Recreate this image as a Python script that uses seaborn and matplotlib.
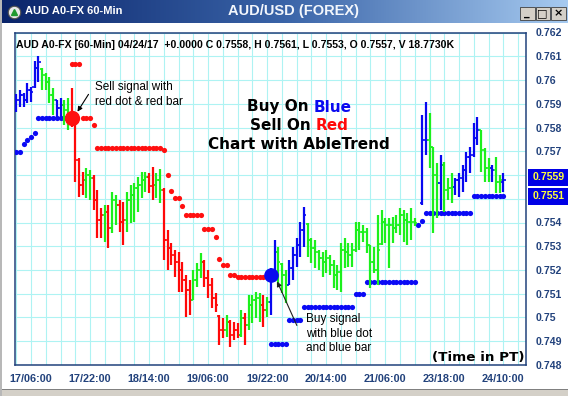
import numpy as np
import pandas as pd
import matplotlib
matplotlib.use("Agg")
import matplotlib.pyplot as plt
import seaborn as sns
from matplotlib.patches import Rectangle
from matplotlib.colors import LinearSegmentedColormap
import matplotlib.transforms as mtrans

# ---------------- data ----------------
bar_index = list(range(-4, 129))   # hourly bars, 0 = 17/06:00
bar_colour = ("BBBBBBB" "GGGG" "BB" "GG" "RRRR" "GG" "RRR" "G" "R" "GG" "RR" "GGGGGG" "RR" "GG"
              "RRRRRRRR" "GGG" "RRRRRR" "G" "RRR" "G" "R" "GGGG" "R" "G" "BB" "GGG" "BBBBB"
              + "G" * 30 + "-" "BB" "GGG" "B" "GGG" "BBBBBBB" "GGG" "B" "GG" "B")

highs = [0.75940, 0.75956, 0.75944, 0.75986, 0.75969, 0.76082, 0.76103, 0.76049, 0.76028, 0.76011,
         0.75965, 0.75914, 0.75923, 0.75914, 0.75923, 0.75965, 0.75843, 0.75671, 0.75612, 0.75629,
         0.75620, 0.75599, 0.75536, 0.75461, 0.75473, 0.75473, 0.75528, 0.75515, 0.75494, 0.75486,
         0.75528, 0.75557, 0.75566, 0.75591, 0.75612, 0.75612, 0.75608, 0.75633, 0.75608, 0.75625,
         0.75545, 0.75368, 0.75314, 0.75284, 0.75276, 0.75234, 0.75179, 0.75158, 0.75200, 0.75230,
         0.75272, 0.75242, 0.75200, 0.75167, 0.75104, 0.75011, 0.74999, 0.75011, 0.74990, 0.74982,
         0.74978, 0.75032, 0.75020, 0.75095, 0.75095, 0.75108, 0.75104, 0.75095, 0.75087, 0.75209,
         0.75326, 0.75297, 0.75230, 0.75200, 0.75242, 0.75297, 0.75335, 0.75402, 0.75465, 0.75398,
         0.75335, 0.75326, 0.75284, 0.75276, 0.75284, 0.75263, 0.75242, 0.75221, 0.75314, 0.75335,
         0.75314, 0.75314, 0.75402, 0.75402, 0.75389, 0.75377, 0.75305, 0.75297, 0.75431, 0.75452,
         0.75419, 0.75419, 0.75423, 0.75431, 0.75461, 0.75452, 0.75440, 0.75461, 0.75419, np.nan,
         0.75851, 0.75906, 0.75860, 0.75717, 0.75650, 0.75683, 0.75654, 0.75587, 0.75608, 0.75587,
         0.75608, 0.75641, 0.75696, 0.75717, 0.75818, 0.75843, 0.75788, 0.75713, 0.75671, 0.75641,
         0.75675, 0.75599, 0.75610]
lows = [0.75864, 0.75885, 0.75885, 0.75902, 0.75906, 0.75965, 0.75990, 0.75956, 0.75956, 0.75902,
        0.75851, 0.75843, 0.75843, 0.75809, 0.75788, 0.75801, 0.75570, 0.75507, 0.75515, 0.75503,
        0.75494, 0.75452, 0.75335, 0.75335, 0.75318, 0.75293, 0.75356, 0.75389, 0.75360, 0.75305,
        0.75360, 0.75398, 0.75402, 0.75444, 0.75503, 0.75528, 0.75524, 0.75494, 0.75503, 0.75482,
        0.75242, 0.75200, 0.75221, 0.75171, 0.75108, 0.75108, 0.75003, 0.75011, 0.75074, 0.75129,
        0.75167, 0.75129, 0.75083, 0.75041, 0.75024, 0.74885, 0.74915, 0.74919, 0.74877, 0.74906,
        0.74915, 0.74919, 0.74885, 0.74948, 0.74978, 0.74999, 0.74982, 0.74961, 0.75003, 0.75011,
        0.75158, 0.75137, 0.75104, 0.75062, 0.75137, 0.75158, 0.75213, 0.75255, 0.75297, 0.75255,
        0.75230, 0.75209, 0.75200, 0.75171, 0.75188, 0.75179, 0.75125, 0.75116, 0.75108, 0.75209,
        0.75213, 0.75213, 0.75276, 0.75284, 0.75318, 0.75272, 0.75125, 0.75188, 0.75137, 0.75305,
        0.75314, 0.75209, 0.75314, 0.75356, 0.75347, 0.75318, 0.75305, 0.75326, 0.75385, np.nan,
        0.75473, 0.75683, 0.75629, 0.75356, 0.75419, 0.75452, 0.75444, 0.75494, 0.75482, 0.75515,
        0.75507, 0.75528, 0.75570, 0.75608, 0.75675, 0.75725, 0.75612, 0.75570, 0.75570, 0.75570,
        0.75524, 0.75524, 0.75530]
closes = [0.75914, 0.75935, 0.75914, 0.75956, 0.75948, 0.76049, 0.76074, 0.76019, 0.75990, 0.75935,
          0.75914, 0.75881, 0.75893, 0.75872, 0.75851, 0.75839, 0.75662, 0.75557, 0.75578, 0.75599,
          0.75587, 0.75494, 0.75410, 0.75431, 0.75444, 0.75377, 0.75494, 0.75473, 0.75402, 0.75410,
          0.75494, 0.75515, 0.75545, 0.75557, 0.75578, 0.75591, 0.75553, 0.75557, 0.75578, 0.75536,
          0.75326, 0.75293, 0.75263, 0.75234, 0.75200, 0.75158, 0.75116, 0.75074, 0.75158, 0.75200,
          0.75234, 0.75167, 0.75137, 0.75083, 0.75053, 0.74948, 0.74948, 0.74982, 0.74927, 0.74948,
          0.74927, 0.74999, 0.74969, 0.75053, 0.75074, 0.75083, 0.75053, 0.75032, 0.75066, 0.75158,
          0.75276, 0.75234, 0.75179, 0.75137, 0.75209, 0.75263, 0.75305, 0.75368, 0.75431, 0.75326,
          0.75293, 0.75276, 0.75251, 0.75234, 0.75251, 0.75221, 0.75179, 0.75192, 0.75284, 0.75276,
          0.75263, 0.75284, 0.75368, 0.75360, 0.75360, 0.75305, 0.75234, 0.75200, 0.75284, 0.75402,
          0.75389, 0.75389, 0.75377, 0.75389, 0.75431, 0.75410, 0.75402, 0.75402, 0.75398, np.nan,
          0.75746, 0.75746, 0.75717, 0.75599, 0.75566, 0.75641, 0.75536, 0.75545, 0.75549, 0.75578,
          0.75587, 0.75620, 0.75675, 0.75683, 0.75755, 0.75788, 0.75704, 0.75629, 0.75629, 0.75620,
          0.75570, 0.75578, 0.75580]
opens = [0.75920, 0.75914, 0.75935, 0.75914, 0.75956, 0.75970, 0.76049, 0.76045, 0.76019, 0.75990,
         0.75935, 0.75914, 0.75881, 0.75893, 0.75872, 0.75851, 0.75839, 0.75662, 0.75557, 0.75578,
         0.75599, 0.75587, 0.75494, 0.75410, 0.75431, 0.75444, 0.75377, 0.75494, 0.75473, 0.75402,
         0.75410, 0.75494, 0.75515, 0.75545, 0.75557, 0.75578, 0.75591, 0.75553, 0.75557, 0.75578,
         0.75536, 0.75326, 0.75293, 0.75263, 0.75234, 0.75200, 0.75158, 0.75116, 0.75074, 0.75158,
         0.75200, 0.75234, 0.75167, 0.75137, 0.75083, 0.75005, 0.74948, 0.74948, 0.74982, 0.74927,
         0.74948, 0.74927, 0.74999, 0.74969, 0.75053, 0.75074, 0.75083, 0.75053, 0.75032, 0.75066,
         0.75158, 0.75276, 0.75225, 0.75179, 0.75137, 0.75209, 0.75263, 0.75305, 0.75368, 0.75395,
         0.75326, 0.75293, 0.75276, 0.75251, 0.75234, 0.75251, 0.75221, 0.75179, 0.75192, 0.75284,
         0.75276, 0.75263, 0.75284, 0.75368, 0.75360, 0.75360, 0.75305, 0.75234, 0.75200, 0.75310,
         0.75402, 0.75389, 0.75389, 0.75377, 0.75389, 0.75431, 0.75410, 0.75402, 0.75402, np.nan,
         0.75480, 0.75746, 0.75746, 0.75717, 0.75599, 0.75566, 0.75641, 0.75536, 0.75545, 0.75549,
         0.75578, 0.75587, 0.75620, 0.75675, 0.75683, 0.75755, 0.75788, 0.75704, 0.75629, 0.75629,
         0.75620, 0.75570, 0.75570]

# AbleTrend stop dots: segments (first bar, last bar, level)
blue_stop_start = [-4, -2, -1, 0, 1, 2, 65, 70, 74, 88, 91, 105, 106, 107, 120]
blue_stop_end   = [-3, -2, -1, 0, 1, 10, 69, 73, 87, 90, 104, 105, 106, 119, 128]
blue_stop_level = [0.75696, 0.75730, 0.75746, 0.75759, 0.75776, 0.75839, 0.74889, 0.74990,
                   0.75045, 0.75100, 0.75150, 0.75389, 0.75406, 0.75440, 0.75511]
red_stop_start = [11, 14, 17, 18, 36, 37, 38, 39, 41, 42, 47, 50, 51, 52, 54, 56]
red_stop_end   = [13, 16, 17, 35, 36, 37, 38, 40, 41, 46, 49, 50, 51, 53, 55, 64]
red_stop_level = [0.76066, 0.75839, 0.75809, 0.75713, 0.75704, 0.75599, 0.75532, 0.75503,
                  0.75469, 0.75431, 0.75373, 0.75339, 0.75247, 0.75221, 0.75179, 0.75171]

sell_signal = (11, 0.75839)
buy_signal = (65, 0.75179)

x_tick_pos = [0, 16, 32, 48, 64, 80, 96, 112, 128]
x_tick_labels = ["17/06:00", "17/22:00", "18/14:00", "19/06:00", "19/22:00",
                 "20/14:00", "21/06:00", "23/18:00", "24/10:00"]
y_ticks = [0.748, 0.749, 0.750, 0.751, 0.752, 0.753, 0.754, 0.755, 0.756, 0.757,
           0.758, 0.759, 0.760, 0.761, 0.762]
price_boxes = [0.7559, 0.7551]
header = "AUD A0-FX [60-Min] 04/24/17  +0.0000 C 0.7558, H 0.7561, L 0.7553, O 0.7557, V 18.7730K"

# ---------------- style ----------------
sns.set_style("white")
plt.rcParams['font.family'] = ['Liberation Sans', 'DejaVu Sans']

COL = {"B": "#0808f0", "G": "#1cf01c", "R": "#ff0808"}
NAVY = "#22427c"
GRID = "#aef3f3"

W, H = 568, 396
def fx(px): return px / W
def fy(py): return 1 - py / H

fig = plt.figure(figsize=(W / 100, H / 100), dpi=100)
fig.patch.set_facecolor("white")

ax = fig.add_axes([fx(14.7), fy(365), fx(526) - fx(14.7), fy(32.5) - fy(365)])
ax.set_facecolor("white")
ax.set_xlim((14.7 - 31) / 3.69, (526 - 31) / 3.69)
ax.set_ylim(0.748, 0.762)

# grid
ax.set_xticks(x_tick_pos)
ax.set_xticklabels(x_tick_labels)
ax.set_xticks(np.arange(-4, 134, 4), minor=True)
ax.set_yticks(y_ticks)
ax.set_yticklabels(["" if v in (0.755, 0.756) else f"{v:g}" for v in y_ticks])
ax.yaxis.tick_right()
ax.grid(True, which="both", axis="x", color=GRID, lw=0.8, zorder=0)
ax.grid(True, which="major", axis="y", color=GRID, lw=0.8, zorder=0)
ax.set_axisbelow(True)
ax.tick_params(axis="x", which="both", direction="out", length=4, width=1, color=NAVY,
               labelcolor=NAVY, labelsize=7.8, pad=2.5)
ax.tick_params(axis="y", which="both", length=0, labelcolor=NAVY, labelsize=7.6, pad=7)
for lab in ax.get_xticklabels() + ax.get_yticklabels():
    lab.set_fontweight("bold")
for s in ax.spines.values():
    s.set_color(NAVY)
    s.set_linewidth(1.1)

# stops (dots)
def stop_frame(starts, ends, levels):
    xs, ys = [], []
    for a, b, lv in zip(starts, ends, levels):
        for k in range(a, b + 1):
            xs.append(k)
            ys.append(lv)
    return pd.DataFrame({"x": xs, "y": ys})

for starts, ends, levels, c in [(blue_stop_start, blue_stop_end, blue_stop_level, "#0a0af5"),
                                (red_stop_start, red_stop_end, red_stop_level, "#ff1010")]:
    for a, b, lv in zip(starts, ends, levels):
        if b > a:
            ax.plot([a, b], [lv, lv], color=c, lw=1.2, zorder=2)
    sns.scatterplot(data=stop_frame(starts, ends, levels), x="x", y="y", ax=ax, color=c,
                    s=14, marker="o", linewidth=0, zorder=3, legend=False)

# OHLC bars
df = pd.DataFrame({"i": bar_index, "c": list(bar_colour), "o": opens, "h": highs,
                   "l": lows, "cl": closes})
df = df[df["c"] != "-"]
cols = [COL[c] for c in df["c"]]
ax.vlines(df["i"], df["l"], df["h"], colors=cols, lw=1.6, zorder=4)
ax.hlines(df["cl"], df["i"], df["i"] + 0.6, colors=cols, lw=1.2, zorder=4)
ax.hlines(df["o"], df["i"] - 0.6, df["i"], colors=cols, lw=1.2, zorder=4)
ax.set_xlabel("")
ax.set_ylabel("")

# signal dots
ax.plot(*sell_signal, "o", ms=10, color="#ff1010", mec="#ff1010", zorder=6)
ax.plot(*buy_signal, "o", ms=9.5, color="#0a0af0", mec="#0a0af0", zorder=6)

# annotations
def px2data(px, py):
    return ((px - 31) / 3.69, 0.762 - (py - 32.5) * (0.014 / 332.5))

ax.annotate("", xy=px2data(76, 114), xytext=px2data(90, 92),
            arrowprops=dict(arrowstyle="-|>", color="black", lw=0.8, mutation_scale=7), zorder=7)
ax.annotate("", xy=px2data(276, 279), xytext=px2data(298, 328),
            arrowprops=dict(arrowstyle="-|>", color="#202020", lw=0.8, mutation_scale=7), zorder=7)

for txt, py in [("Sell signal with", 90), ("red dot & red bar", 105)]:
    ax.text(*px2data(95, py), txt, fontsize=8.5, va="baseline", ha="left", color="black", zorder=8)
for txt, py in [("Buy signal", 322), ("with blue dot", 337), ("and blue bar", 351)]:
    ax.text(*px2data(306, py), txt, fontsize=8.5, va="baseline", ha="left", color="black", zorder=8)

# multi-coloured central message
fig.canvas.draw()
renderer = fig.canvas.get_renderer()
cfont = dict(fontsize=11, fontweight="bold", family="DejaVu Sans", va="baseline", zorder=8)
def colour_line(py, left, right, rcol):
    full = (left + " " + right).strip()
    x0, y0 = px2data(299, py)
    tmp = ax.text(x0, y0, full, ha="center", **cfont)
    bb = tmp.get_window_extent(renderer)
    tmp.remove()
    inv = ax.transData.inverted()
    xl = inv.transform((bb.x0, bb.y0))[0]
    xr = inv.transform((bb.x1, bb.y0))[0]
    if right:
        ax.text(xl, y0, left, ha="left", color="black", **cfont)
        ax.text(xr, y0, right, ha="right", color=rcol, **cfont)
    else:
        ax.text(x0, y0, left, ha="center", color="black", **cfont)

colour_line(111.5, "Buy On", "Blue", "#0a0af0")
colour_line(130.5, "Sell On", "Red", "#ff0a0a")
colour_line(149.5, "Chart with AbleTrend", "", "black")

ax.text(*px2data(525, 361), "(Time in PT)", ha="right", va="baseline", fontsize=9.7,
        fontweight="bold", family="DejaVu Sans", color="black", zorder=8)

# header line
fig.text(fx(16), fy(45), header, fontsize=7.6, fontweight="bold", va="center", ha="left",
         color="black")

# current price boxes on the right axis
bt = mtrans.blended_transform_factory(fig.transFigure, ax.transData)
half = 0.5 * 17.5 * 0.014 / 332.5
for v in price_boxes:
    fig.add_artist(Rectangle((fx(528), v - half), fx(568) - fx(528) + 0.01, 2 * half * 0.96,
                             transform=bt, facecolor="#0000e6", edgecolor="none", zorder=5))
    fig.text(fx(533), v, f"{v:.4f}", transform=bt, color="#ffff3a", fontsize=7.6,
             fontweight="bold", va="center", ha="left", zorder=6)

# window title bar
tb = fig.add_axes([0, fy(23), 1, 23 / H])
tb.axis("off")
cmap = LinearSegmentedColormap.from_list("tb", ["#0a246a", "#3a64a8", "#a6caf0"])
tb.imshow(np.linspace(0, 1, 256)[None, :], aspect="auto", cmap=cmap, extent=[0, 1, 0, 1])
tb.set_xlim(0, 1)
tb.set_ylim(0, 1)
tb.plot(13.5 / W, 0.5, "o", ms=9, mfc="#e8e8e8", mec="#505050", mew=0.8)
tb.plot(13.5 / W, 0.48, "^", ms=5, color="#1f9a2f")
tb.text(25 / W, 0.5, "AUD A0-FX 60-Min", color="white", fontsize=8, fontweight="bold",
        va="center", ha="left")
tb.text(293 / W, 0.5, "AUD/USD (FOREX)", color="#f2f6fc", fontsize=10.5, fontweight="bold",
        va="center", ha="center")
for k, sym in enumerate(["_", "□", "×"]):
    x0 = 520 + 15.5 * k
    fig.add_artist(Rectangle((fx(x0), fy(20)), 14.5 / W, 13 / H, transform=fig.transFigure,
                             facecolor="#d4d0c8", edgecolor="#404040", lw=0.6, zorder=10))
    fig.text(fx(x0 + 7.25), fy(13.5), sym, ha="center", va="center", fontsize=8,
             fontweight="bold", color="black", family="DejaVu Sans", zorder=11)

# window frame bits
fig.add_artist(Rectangle((0, 0), 1, 6 / H, transform=fig.transFigure, facecolor="#d4d0c8",
                         edgecolor="none", zorder=9))
fig.add_artist(Rectangle((0, 6 / H), 1, 1 / H, transform=fig.transFigure, facecolor="#808080",
                         edgecolor="none", zorder=9))
fig.add_artist(Rectangle((0, 0), 2 / W, 1, transform=fig.transFigure, facecolor="#b8b8b8",
                         edgecolor="none", zorder=9))

fig.savefig("out.png", dpi=100, facecolor=fig.get_facecolor())
